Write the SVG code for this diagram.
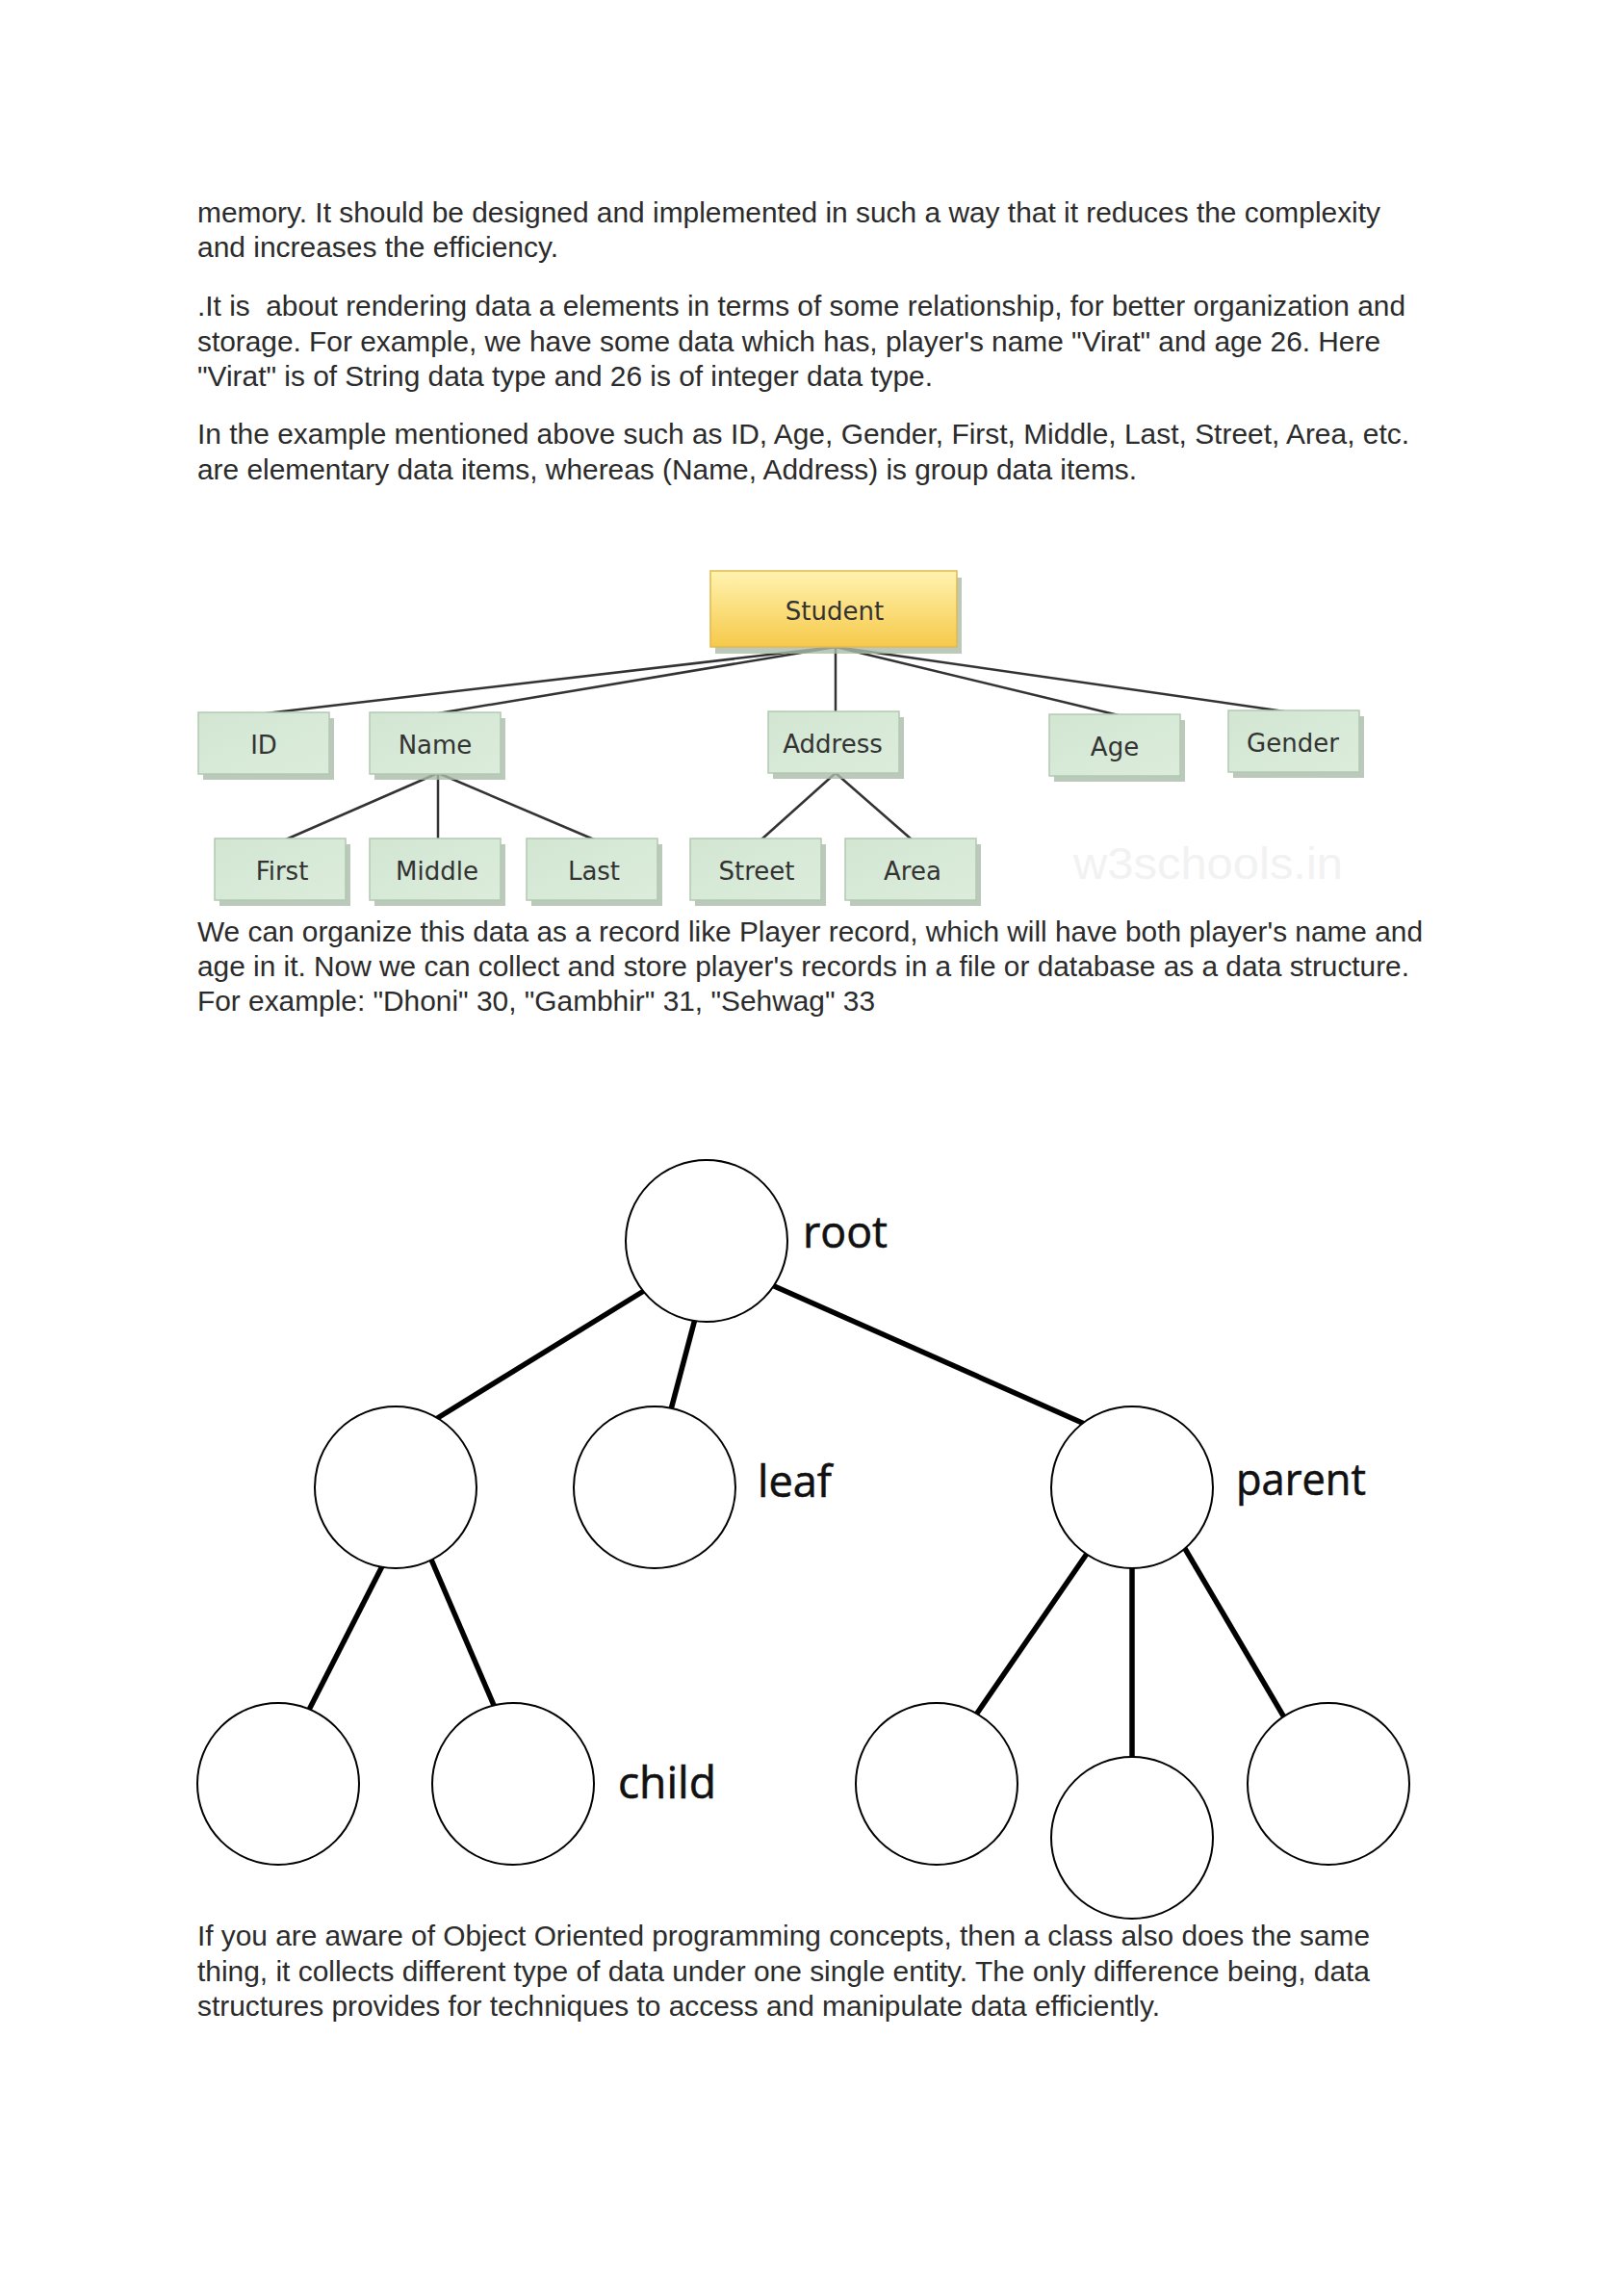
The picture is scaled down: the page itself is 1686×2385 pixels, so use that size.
<svg xmlns="http://www.w3.org/2000/svg" width="1686" height="2385" viewBox="0 0 1686 2385">
<defs>
<linearGradient id="yel" x1="0" y1="0" x2="0" y2="1">
<stop offset="0" stop-color="#fff3b0"/>
<stop offset="1" stop-color="#f6c94a"/>
</linearGradient>
<linearGradient id="grn" x1="0" y1="0" x2="1" y2="1">
<stop offset="0" stop-color="#d2e6d2"/>
<stop offset="1" stop-color="#dcecdc"/>
</linearGradient>
</defs>
<style>
.p{font-family:"Liberation Sans",Arial,sans-serif;font-size:29.8px;fill:#2b2b2b}
.box{fill:url(#grn);stroke:#b2c9b2;stroke-width:1.5}
.sh{fill:#a9bca9;opacity:0.8}
.lbl{font-family:"DejaVu Sans",Verdana,sans-serif;font-size:26px;fill:#333;text-anchor:middle}
.ln{stroke:#333;stroke-width:2.5;fill:none}
.tl{stroke:#000;stroke-width:5.5;fill:none}
.c{fill:#fff;stroke:#000;stroke-width:2}
.tt{font-family:"Open Sans","Noto Sans",sans-serif;font-size:46px;fill:#111;stroke:#111;stroke-width:0.6}
</style>
<rect width="1686" height="2385" fill="#fff"/>
<g id="text">
<text class="p" x="205" y="231" textLength="1229" lengthAdjust="spacingAndGlyphs">memory. It should be designed and implemented in such a way that it reduces the complexity</text>
<text class="p" x="205" y="267" textLength="375" lengthAdjust="spacingAndGlyphs">and increases the efficiency.</text>
<text class="p" x="205" y="328" textLength="1255" lengthAdjust="spacingAndGlyphs" xml:space="preserve">.It is  about rendering data a elements in terms of some relationship, for better organization and</text>
<text class="p" x="205" y="365" textLength="1229" lengthAdjust="spacingAndGlyphs">storage. For example, we have some data which has, player's name "Virat" and age 26. Here</text>
<text class="p" x="205" y="401" textLength="764" lengthAdjust="spacingAndGlyphs">"Virat" is of String data type and 26 is of integer data type.</text>
<text class="p" x="205" y="461" textLength="1259" lengthAdjust="spacingAndGlyphs">In the example mentioned above such as ID, Age, Gender, First, Middle, Last, Street, Area, etc.</text>
<text class="p" x="205" y="498" textLength="976" lengthAdjust="spacingAndGlyphs">are elementary data items, whereas (Name, Address) is group data items.</text>
<text class="p" x="205" y="978" textLength="1273" lengthAdjust="spacingAndGlyphs">We can organize this data as a record like Player record, which will have both player's name and</text>
<text class="p" x="205" y="1014" textLength="1259" lengthAdjust="spacingAndGlyphs">age in it. Now we can collect and store player's records in a file or database as a data structure.</text>
<text class="p" x="205" y="1050" textLength="704" lengthAdjust="spacingAndGlyphs">For example: "Dhoni" 30, "Gambhir" 31, "Sehwag" 33</text>
<text class="p" x="205" y="2021" textLength="1218" lengthAdjust="spacingAndGlyphs">If you are aware of Object Oriented programming concepts, then a class also does the same</text>
<text class="p" x="205" y="2058" textLength="1218" lengthAdjust="spacingAndGlyphs">thing, it collects different type of data under one single entity. The only difference being, data</text>
<text class="p" x="205" y="2094" textLength="1000" lengthAdjust="spacingAndGlyphs">structures provides for techniques to access and manipulate data efficiently.</text>
</g>
<g id="connectors-record">
<line class="ln" x1="868" y1="672" x2="276" y2="741"/>
<line class="ln" x1="868" y1="672" x2="455" y2="741"/>
<line class="ln" x1="868" y1="672" x2="868" y2="740"/>
<line class="ln" x1="868" y1="672" x2="1162" y2="743"/>
<line class="ln" x1="868" y1="672" x2="1334" y2="739"/>
<line class="ln" x1="455" y1="803" x2="297" y2="872"/>
<line class="ln" x1="455" y1="803" x2="455" y2="872"/>
<line class="ln" x1="455" y1="803" x2="617" y2="872"/>
<line class="ln" x1="868" y1="803" x2="791" y2="872"/>
<line class="ln" x1="868" y1="803" x2="947" y2="872"/>
</g>
<g id="student"><rect class="sh" x="743" y="600" width="256" height="79"/><rect x="738" y="593" width="256" height="79" fill="url(#yel)" stroke="#e2b84c" stroke-width="1.5"/><text class="lbl" x="867" y="644">Student</text></g>
<g id="id"><rect class="sh" x="211" y="746" width="136" height="64"/><rect class="box" x="206" y="740" width="136" height="64"/><text class="lbl" x="274" y="783">ID</text></g>
<g id="name"><rect class="sh" x="389" y="746" width="136" height="64"/><rect class="box" x="384" y="740" width="136" height="64"/><text class="lbl" x="452" y="783">Name</text></g>
<g id="address"><rect class="sh" x="803" y="745" width="136" height="64"/><rect class="box" x="798" y="739" width="136" height="64"/><text class="lbl" x="865" y="782">Address</text></g>
<g id="age"><rect class="sh" x="1095" y="748" width="136" height="64"/><rect class="box" x="1090" y="742" width="136" height="64"/><text class="lbl" x="1158" y="785">Age</text></g>
<g id="gender"><rect class="sh" x="1281" y="744" width="136" height="64"/><rect class="box" x="1276" y="738" width="136" height="64"/><text class="lbl" x="1343" y="781">Gender</text></g>
<g id="first"><rect class="sh" x="228" y="877" width="136" height="64"/><rect class="box" x="223" y="871" width="136" height="64"/><text class="lbl" x="293" y="914">First</text></g>
<g id="middle"><rect class="sh" x="389" y="877" width="136" height="64"/><rect class="box" x="384" y="871" width="136" height="64"/><text class="lbl" x="454" y="914">Middle</text></g>
<g id="last"><rect class="sh" x="552" y="877" width="136" height="64"/><rect class="box" x="547" y="871" width="136" height="64"/><text class="lbl" x="617" y="914">Last</text></g>
<g id="street"><rect class="sh" x="722" y="877" width="136" height="64"/><rect class="box" x="717" y="871" width="136" height="64"/><text class="lbl" x="786" y="914">Street</text></g>
<g id="area"><rect class="sh" x="883" y="877" width="136" height="64"/><rect class="box" x="878" y="871" width="136" height="64"/><text class="lbl" x="948" y="914">Area</text></g>
<text x="1255" y="913" font-family="Liberation Sans,Arial,sans-serif" font-size="46" fill="#f2f2f2" text-anchor="middle" textLength="280" lengthAdjust="spacingAndGlyphs">w3schools.in</text>
<g id="connectors-tree">
<line class="tl" x1="672" y1="1339" x2="448" y2="1477"/>
<line class="tl" x1="722" y1="1370" x2="696" y2="1468"/>
<line class="tl" x1="802" y1="1335" x2="1131" y2="1481"/>
<line class="tl" x1="398" y1="1625" x2="319" y2="1780"/>
<line class="tl" x1="448" y1="1620" x2="515" y2="1776"/>
<line class="tl" x1="1131" y1="1611" x2="1012" y2="1784"/>
<line class="tl" x1="1176" y1="1626" x2="1176" y2="1830"/>
<line class="tl" x1="1230" y1="1607" x2="1337" y2="1789"/>
</g>
<g id="root"><circle class="c" cx="734" cy="1289" r="84"/><text class="tt" x="834" y="1296" textLength="88" lengthAdjust="spacingAndGlyphs">root</text></g>
<g id="n-left"><circle class="c" cx="411" cy="1545" r="84"/></g>
<g id="leaf"><circle class="c" cx="680" cy="1545" r="84"/><text class="tt" x="787" y="1555" textLength="77" lengthAdjust="spacingAndGlyphs">leaf</text></g>
<g id="parent"><circle class="c" cx="1176" cy="1545" r="84"/><text class="tt" x="1284" y="1553" textLength="135" lengthAdjust="spacingAndGlyphs">parent</text></g>
<g id="child1"><circle class="c" cx="289" cy="1853" r="84"/></g>
<g id="child2"><circle class="c" cx="533" cy="1853" r="84"/><text class="tt" x="642" y="1868" textLength="102" lengthAdjust="spacingAndGlyphs">child</text></g>
<g id="r1"><circle class="c" cx="973" cy="1853" r="84"/></g>
<g id="r2"><circle class="c" cx="1176" cy="1909" r="84"/></g>
<g id="r3"><circle class="c" cx="1380" cy="1853" r="84"/></g>
</svg>
